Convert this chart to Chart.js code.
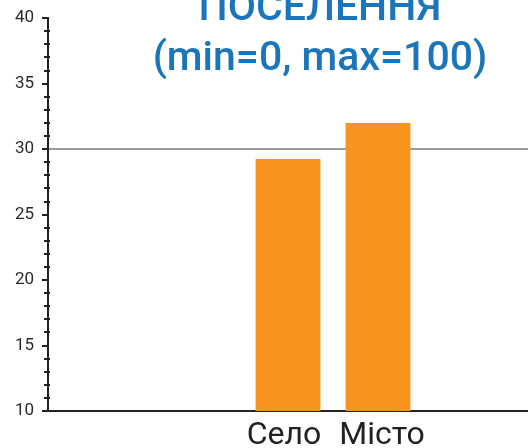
<!DOCTYPE html>
<html>
<head>
<meta charset="utf-8">
<script src="https://cdn.jsdelivr.net/npm/chart.js@4/dist/chart.umd.min.js"></script>
<style>
  html, body { margin: 0; padding: 0; background: #fff; }
  #wrap { position: relative; width: 528px; height: 448px; overflow: hidden; }
  #title {
    position: absolute; left: 120px; width: 400px; top: -19px;
    text-align: center; font-family: Roboto, sans-serif; font-weight: 500;
    font-size: 41px; line-height: 50px; color: #1b75bb; pointer-events: none;
  }
</style>
</head>
<body>
<div id="wrap">
  <canvas id="c" width="528" height="448"></canvas>
  <div id="title">ПОСЕЛЕННЯ<br>(min=0, max=100)</div>
</div>
<script>
const categories = ['Село', 'Місто'];
const values = [29.25, 32];
const yMin = 10, yMax = 40, yStep = 5, yMinorStep = 1;
const refLine = 30;

const points = categories.map((c, i) => ({ x: i, y: values[i] }));

const minorTicks = {
  id: 'minorTicks',
  afterDraw(chart) {
    const s = chart.scales.y, ctx = chart.ctx;
    ctx.save();
    ctx.strokeStyle = '#222';
    ctx.lineWidth = 2;
    for (let v = yMin; v <= yMax; v += yMinorStep) {
      if (v % yStep === 0) continue;
      const y = Math.round(s.getPixelForValue(v));
      ctx.beginPath();
      ctx.moveTo(s.right - 4, y);
      ctx.lineTo(s.right + 2, y);
      ctx.stroke();
    }
    ctx.restore();
  }
};

new Chart(document.getElementById('c'), {
  type: 'bar',
  data: {
    datasets: [{
      data: points,
      backgroundColor: '#f7941e',
      borderWidth: 0
    }]
  },
  options: {
    responsive: false,
    animation: false,
    layout: { padding: { top: 17, right: 0, left: 0, bottom: 0 } },
    plugins: { legend: { display: false }, tooltip: { enabled: false }, title: { display: false } },
    scales: {
      x: {
        type: 'linear',
        offset: false,
        min: -8 / 3,
        max: 8 / 3,
        afterBuildTicks(scale) { scale.ticks = categories.map((c, i) => ({ value: i })); },
        afterFit(scale) { scale.height = 37; },
        grid: { display: false, drawTicks: false, offset: false },
        border: { display: true, color: '#222', width: 2 },
        ticks: {
          autoSkip: false,
          maxRotation: 0,
          padding: 6,
          color: '#222',
          font: { family: 'Roboto', size: 32 },
          callback: (v) => (v === 0 ? categories[v] + ' ' : ' ' + categories[v])
        }
      },
      y: {
        min: yMin,
        max: yMax,
        afterFit(scale) { scale.width = 48; },
        ticks: {
          stepSize: yStep,
          padding: 8,
          color: '#2a2a2a',
          font: { family: 'Roboto', size: 17 }
        },
        border: { display: true, color: '#222', width: 2 },
        grid: {
          drawOnChartArea: true,
          drawTicks: true,
          tickLength: 6,
          lineWidth: 2,
          tickWidth: 2,
          tickColor: '#222',
          color: (ctx) => (ctx.tick && ctx.tick.value === refLine) ? '#9a9a9a' : 'rgba(0,0,0,0)'
        }
      }
    }
  },
  plugins: [minorTicks]
});
</script>
</body>
</html>
